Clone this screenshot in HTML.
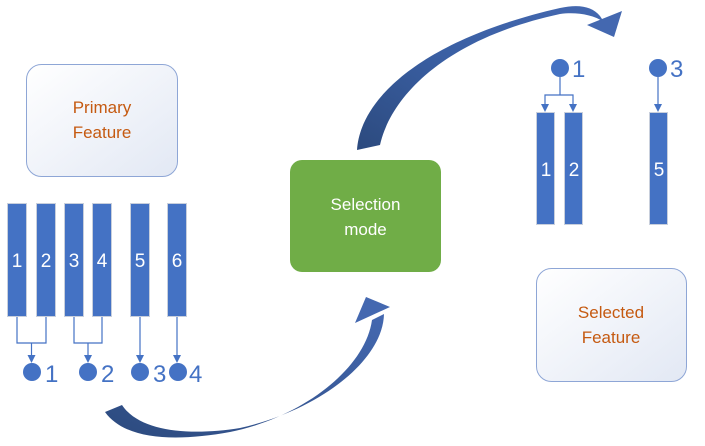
<!DOCTYPE html>
<html><head><style>
body{margin:0;width:705px;height:441px;background:#fff;overflow:hidden;font-family:"Liberation Sans",sans-serif}
</style></head><body>
<svg width="705" height="441" viewBox="0 0 705 441" xmlns="http://www.w3.org/2000/svg">
<defs>
<linearGradient id="bx" x1="0" y1="0" x2="1" y2="1"><stop offset="0" stop-color="#fff"/><stop offset="1" stop-color="#e2e8f4"/></linearGradient>
<linearGradient id="ar" x1="0" y1="1" x2="1" y2="0"><stop offset="0" stop-color="#2c4a7e"/><stop offset="0.5" stop-color="#3a5fa3"/><stop offset="1" stop-color="#4468b0"/></linearGradient>
<linearGradient id="ar2" x1="0" y1="1" x2="1" y2="0"><stop offset="0" stop-color="#2c4a7e"/><stop offset="1" stop-color="#4468b0"/></linearGradient>
</defs>
<rect x="26.5" y="64.5" width="151" height="112" rx="15" fill="url(#bx)" stroke="#8ea6d6"/>
<text x="102" y="113" text-anchor="middle" font-size="17" fill="#C55A11">Primary</text>
<text x="102" y="138" text-anchor="middle" font-size="17" fill="#C55A11">Feature</text>
<rect x="536.5" y="268.5" width="150" height="113" rx="15" fill="url(#bx)" stroke="#8ea6d6"/>
<text x="611" y="318" text-anchor="middle" font-size="17" fill="#C55A11">Selected</text>
<text x="611" y="343" text-anchor="middle" font-size="17" fill="#C55A11">Feature</text>
<rect x="290" y="160" width="151" height="112" rx="12" fill="#70AD47"/>
<text x="365.5" y="210" text-anchor="middle" font-size="17" fill="#fff">Selection</text>
<text x="365.5" y="235" text-anchor="middle" font-size="17" fill="#fff">mode</text>
<g fill="#4472C4" stroke="#c8cfdc" stroke-width="1">
<rect x="7.5" y="203.5" width="19" height="113"/><rect x="36.5" y="203.5" width="19" height="113"/>
<rect x="64.5" y="203.5" width="19" height="113"/><rect x="92.5" y="203.5" width="19" height="113"/>
<rect x="130.5" y="203.5" width="19" height="113"/><rect x="167.5" y="203.5" width="19" height="113"/>
<rect x="536.5" y="112.5" width="18" height="112"/><rect x="564.5" y="112.5" width="18" height="112"/>
<rect x="649.5" y="112.5" width="18" height="112"/>
</g>
<g fill="#fff" font-size="19" text-anchor="middle">
<text x="17" y="267">1</text><text x="46" y="267">2</text><text x="74" y="267">3</text><text x="102" y="267">4</text><text x="140" y="267">5</text><text x="177" y="267">6</text>
<text x="546" y="176">1</text><text x="574" y="176">2</text><text x="659" y="176">5</text>
</g>
<g stroke="#4472C4" stroke-width="1.2" fill="none">
<path d="M17,317 V343 H46 V317"/><path d="M31.5,343 V356"/>
<path d="M74,317 V343 H102 V317"/><path d="M88,343 V356"/>
<path d="M140,317 V356"/><path d="M177,317 V356"/>
<path d="M560,77 V95 H545 V105 M560,95 H573 V105"/>
<path d="M658,77 V105"/>
</g>
<g fill="#4472C4">
<polygon points="27.5,355 35.5,355 31.5,363"/><polygon points="84,355 92,355 88,363"/>
<polygon points="136,355 144,355 140,363"/><polygon points="173,355 181,355 177,363"/>
<polygon points="541,104 549,104 545,112"/><polygon points="569,104 577,104 573,112"/>
<polygon points="654,104 662,104 658,112"/>
<circle cx="32" cy="372" r="9"/><circle cx="88" cy="372" r="9"/><circle cx="140" cy="372" r="9"/><circle cx="178" cy="372" r="9"/>
<circle cx="560" cy="68" r="9"/><circle cx="658" cy="68" r="9"/>
</g>
<g fill="#4472C4" font-size="24">
<text x="45" y="382">1</text><text x="101" y="382">2</text><text x="153" y="382">3</text><text x="189" y="382">4</text>
<text x="572" y="77">1</text><text x="670" y="77">3</text>
</g>
<path d="M357,150 C360,100 420,40 560,8 C578,4 592,6 600,16 L604,22 C592,14 575,12 560,14 C440,40 390,100 380,145 Z" fill="url(#ar)"/>
<polygon points="587,25 622,11 614,37" fill="#4468b0"/>
<path d="M105,412 C125,440 175,442 230,432 C300,418 365,370 372,320 L384,314 C383,360 320,410 240,428 C190,436 140,432 122,405 Z" fill="url(#ar2)"/>
<polygon points="355,323 366,297 390,307" fill="#4468b0"/>
</svg>
</body></html>
